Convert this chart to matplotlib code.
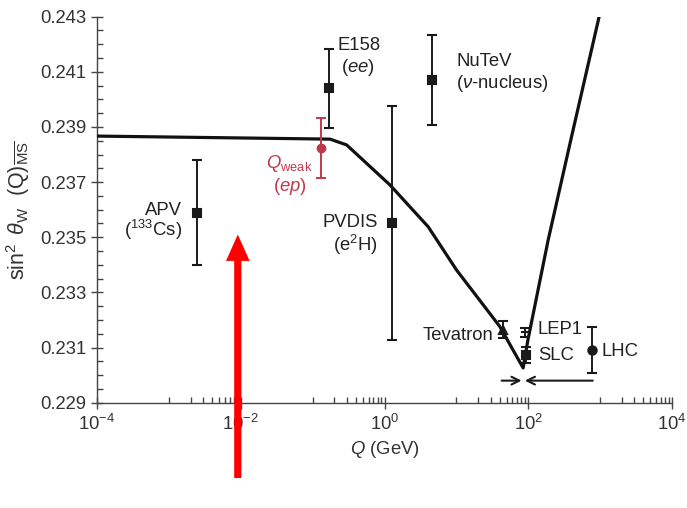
import numpy as np
import matplotlib
matplotlib.use("Agg")
import matplotlib.pyplot as plt
from matplotlib.patches import ArrowStyle
from matplotlib.ticker import NullFormatter

plt.rcParams['font.family'] = ['Liberation Sans', 'DejaVu Sans']
plt.rcParams['mathtext.fontset'] = 'custom'
plt.rcParams['mathtext.rm'] = 'Liberation Sans'
plt.rcParams['mathtext.it'] = 'Liberation Sans:italic'
plt.rcParams['mathtext.bf'] = 'Liberation Sans:bold'

# Running curve (log10 Q, sin^2 theta_W)
curve_logq = [-4.0, -0.759, -0.527, 0.075, 0.608, 1.003, 1.605, 1.929, 1.995, 2.277, 2.592, 2.986]
curve_s = [0.23867, 0.23856, 0.23835, 0.23690, 0.23538, 0.23381, 0.23176, 0.23026, 0.23127, 0.23490, 0.23853, 0.2430]

# Measurements
names = ['APV', 'E158', 'NuTeV', 'PVDIS', 'Tevatron', 'LEP1', 'SLC', 'LHC']
q_vals = [0.0025, 0.169, 4.6, 1.26, 44.8, 91.2, 93.5, 760.0]
s_vals = [0.23589, 0.24040, 0.24070, 0.23551, 0.23165, 0.23155, 0.23073, 0.23091]
s_errs = [0.00190, 0.00142, 0.00164, 0.00425, 0.00030, 0.00015, 0.00030, 0.00083]
markers = ['s', 's', 's', 's', '^', '_', 's', 'o']

qweak_q = 0.130
qweak_s = 0.23823
qweak_err = 0.00109

# Arrows at the bottom (LEP/SLC and LHC energy markers)
arrow_y = 0.2298
arrow_left = (42.6, 80.7)
arrow_right = (790.0, 89.7)

xticks = [1e-4, 1e-2, 1e0, 1e2, 1e4]
xticklabels = [r'$10^{-4}$', r'$10^{-2}$', r'$10^{0}$', r'$10^{2}$', r'$10^{4}$']
yticks = [0.229, 0.231, 0.233, 0.235, 0.237, 0.239, 0.241, 0.243]

fig = plt.figure(figsize=(6.87, 5.08), dpi=100)
ax = fig.add_axes([97/687, 1-402.7/508, (672-97)/687, (402.7-16.7)/508])

ax.set_xscale('log')
ax.set_xlim(1e-4, 1e4)
ax.set_ylim(0.229, 0.243)

ax.plot(10**np.array(curve_logq), curve_s, color='#111111', lw=2.3, solid_capstyle='butt', zorder=3)

for q, s, e, m in zip(q_vals, s_vals, s_errs, markers):
    ax.errorbar(q, s, yerr=e, fmt=m, color='#1a1a1a', ms=6,
                mew=1.5, elinewidth=1.4, capsize=3.5, capthick=1.4, zorder=4)

red = '#C0394B'
ax.errorbar(qweak_q, qweak_s, yerr=qweak_err, fmt='o', color=red, ms=6,
            elinewidth=1.4, capsize=3.5, capthick=1.4, zorder=4)

ax.annotate('', xy=(arrow_left[1], arrow_y), xytext=(arrow_left[0], arrow_y),
            arrowprops=dict(arrowstyle='->', lw=1.5, color='#1a1a1a', shrinkA=0, shrinkB=0,
                            mutation_scale=14))
ax.annotate('', xy=(arrow_right[1], arrow_y), xytext=(arrow_right[0], arrow_y),
            arrowprops=dict(arrowstyle='->', lw=1.5, color='#1a1a1a', shrinkA=0, shrinkB=0,
                            mutation_scale=14))

fs = 13.3
tc = '#222222'
ax.text(0.225, 0.24197, 'E158', fontsize=fs, color=tc, ha='left', va='center')
ax.text(0.43, 0.24114, r'$(ee)$', fontsize=fs, color=tc, ha='center', va='center')
ax.text(10.0, 0.24136, 'NuTeV', fontsize=fs, color=tc, ha='left', va='center')
ax.text(10.0, 0.24056, r'$(\nu$-nucleus)', fontsize=fs, color=tc, ha='left', va='center')
ax.text(0.00152, 0.23598, 'APV', fontsize=fs, color=tc, ha='right', va='center')
ax.text(0.00152, 0.23526, r'($^{133}$Cs)', fontsize=fs, color=tc, ha='right', va='center')
ax.text(0.048, 0.23769, r'$Q_{\rm weak}$', fontsize=fs, color=red, ha='center', va='center')
ax.text(0.048, 0.23684, r'$(ep)$', fontsize=fs, color=red, ha='center', va='center')
ax.text(0.81, 0.23555, 'PVDIS', fontsize=fs, color=tc, ha='right', va='center')
ax.text(0.81, 0.23472, r'(e$^2$H)', fontsize=fs, color=tc, ha='right', va='center')
ax.text(32.2, 0.23145, 'Tevatron', fontsize=fs, color=tc, ha='right', va='center')
ax.text(136.0, 0.23164, 'LEP1', fontsize=fs, color=tc, ha='left', va='center')
ax.text(136.0, 0.23073, 'SLC', fontsize=fs, color=tc, ha='left', va='center')
ax.text(1045.0, 0.23084, 'LHC', fontsize=fs, color=tc, ha='left', va='center')

ax.set_xticks(xticks)
ax.set_xticklabels(xticklabels)
minor = []
for e in [-3, -1, 1, 3]:
    minor += [k * 10.0**e for k in range(1, 10)]
ax.set_xticks(minor, minor=True)
ax.xaxis.set_minor_formatter(NullFormatter())
ax.set_yticks(yticks)
ax.set_yticklabels([f'{v:.3f}' for v in yticks])
ax.set_yticks(np.arange(0.229, 0.24301, 0.0005), minor=True)
ax.yaxis.set_minor_formatter(NullFormatter())

ax.tick_params(which='major', direction='inout', length=8, width=1.0, labelsize=fs,
               colors='#444444', labelcolor='#333333')
ax.tick_params(which='minor', direction='in', length=4, width=1.0, colors='#444444')
ax.tick_params(axis='x', which='major', pad=4)
for sp in ['top', 'right']:
    ax.spines[sp].set_visible(False)
for sp in ['left', 'bottom']:
    ax.spines[sp].set_color('#444444')
    ax.spines[sp].set_linewidth(1.0)

ax.set_xlabel(r'$Q$ (GeV)', fontsize=fs, color='#333333', labelpad=4)
ax.set_ylabel(r'$\sin^2\ \theta_{\rm W}\ \ ({\rm Q})_{\overline{\rm MS}}$', fontsize=15.5, color='#333333', labelpad=6)

# Red highlight arrow
arrow_tip = (0.0091, 0.2351)
ax.annotate('', xy=arrow_tip, xytext=(arrow_tip[0], 30), textcoords=('data', 'figure pixels'),
            arrowprops=dict(arrowstyle=ArrowStyle.Simple(head_length=0.95, head_width=0.85, tail_width=0.26),
                            mutation_scale=20, color='#FF0000', lw=0, shrinkA=0, shrinkB=0),
            annotation_clip=False, zorder=10)

fig.savefig('out.png', dpi=100)
